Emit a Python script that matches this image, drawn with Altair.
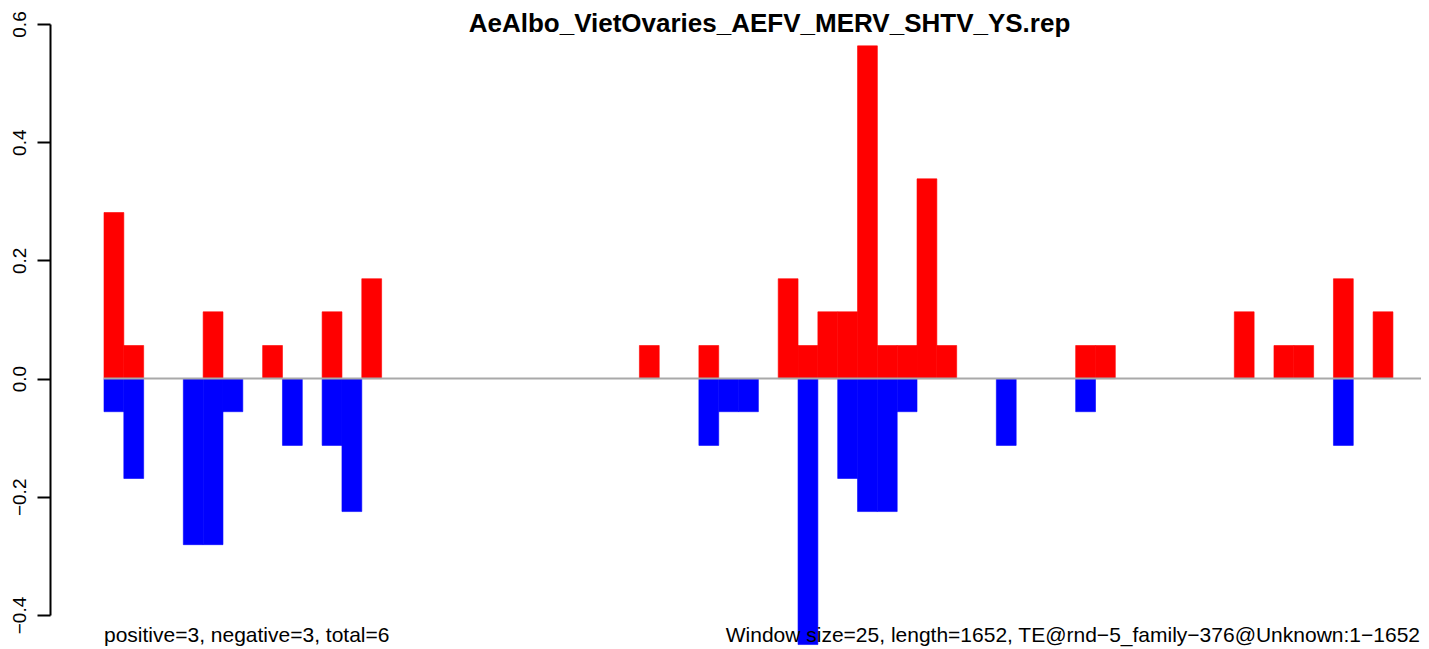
import altair as alt
import pandas as pd

# ---- data (bin index = 25-bp window) ----
pos_bins = [0, 1, 5, 8, 11, 13, 27, 30, 34, 35, 36, 37, 38, 39, 40, 41, 42, 49, 50, 57, 59, 60, 62, 64]
pos_vals = [0.281, 0.056, 0.113, 0.056, 0.113, 0.169, 0.056, 0.056, 0.169, 0.056, 0.113, 0.113,
            0.563, 0.056, 0.056, 0.338, 0.056, 0.056, 0.056, 0.113, 0.056, 0.056, 0.169, 0.113]
neg_bins = [0, 1, 4, 5, 6, 9, 11, 12, 30, 31, 32, 35, 37, 38, 39, 40, 45, 49, 62]
neg_vals = [-0.056, -0.169, -0.281, -0.281, -0.056, -0.113, -0.113, -0.225, -0.113, -0.056, -0.056,
            -0.450, -0.169, -0.225, -0.225, -0.056, -0.113, -0.056, -0.113]
y_ticks = [-0.4, -0.2, 0.0, 0.2, 0.4, 0.6]

title_text = "AeAlbo_VietOvaries_AEFV_MERV_SHTV_YS.rep"
left_note = "positive=3, negative=3, total=6"
right_note = "Window size=25, length=1652, TE@rnd\u22125_family\u2212376@Unknown:1\u22121652"

rows = []
for b, v in zip(pos_bins, pos_vals):
    rows.append({"start": b, "end": b + 1, "value": v, "base": 0.0, "sign": "pos"})
for b, v in zip(neg_bins, neg_vals):
    rows.append({"start": b, "end": b + 1, "value": v, "base": 0.0, "sign": "neg"})
df = pd.DataFrame(rows)

FONT = "Liberation Sans"
W, H = 1371, 591
X_MIN, X_MAX = -2.723, 66.415
x_scale = alt.Scale(domain=[X_MIN, X_MAX], nice=False, zero=False)
y_scale = alt.Scale(domain=[-0.4, 0.6], nice=False, zero=False)
sign_scale = alt.Scale(domain=["pos", "neg"], range=["#ff0000", "#0000ff"])

bars = alt.Chart(df).mark_rect(strokeWidth=0.6).encode(
    x=alt.X("start:Q", scale=x_scale, axis=None),
    x2="end:Q",
    y=alt.Y(
        "value:Q",
        scale=y_scale,
        axis=alt.Axis(
            values=y_ticks, format=".1f", title=None, grid=False,
            domainColor="black", domainWidth=2, tickColor="black", tickWidth=2,
            tickSize=13, labelAngle=270, labelAlign="center", labelBaseline="alphabetic",
            labelPadding=12, labelFontSize=19, labelFont=FONT, labelColor="black",
            labelFlush=False, labelOverlap=False,
        ),
    ),
    y2="base:Q",
    color=alt.Color("sign:N", scale=sign_scale, legend=None),
    stroke=alt.Stroke("sign:N", scale=sign_scale, legend=None),
)

zero_line = alt.Chart(pd.DataFrame({"a": [0]})).mark_rule(color="#a9a9a9", strokeWidth=2).encode(
    x=alt.datum(0), x2=alt.datum(X_MAX), y=alt.datum(0.0)
)

title_mark = alt.Chart(pd.DataFrame({"t": [title_text]})).mark_text(
    align="center", baseline="alphabetic", font=FONT, fontSize=26, fontWeight="bold", color="black"
).encode(x=alt.value(719.5), y=alt.value(7.5), text="t:N")

left_mark = alt.Chart(pd.DataFrame({"t": [left_note]})).mark_text(
    align="left", baseline="alphabetic", font=FONT, fontSize=21, color="black"
).encode(x=alt.datum(0), y=alt.value(618), text="t:N")

right_mark = alt.Chart(pd.DataFrame({"t": [right_note]})).mark_text(
    align="right", baseline="alphabetic", font=FONT, fontSize=21, color="black"
).encode(x=alt.value(W - 1), y=alt.value(618), text="t:N")

chart = alt.layer(bars, zero_line, title_mark, left_mark, right_mark).properties(
    width=W, height=H,
    autosize=alt.AutoSizeParams(type="none"),
    padding={"left": 42, "top": 16, "right": 0, "bottom": 32},
).configure(background="white").configure_view(stroke=None)

chart.save("out.html", embed_options={"renderer": "svg", "actions": False})
